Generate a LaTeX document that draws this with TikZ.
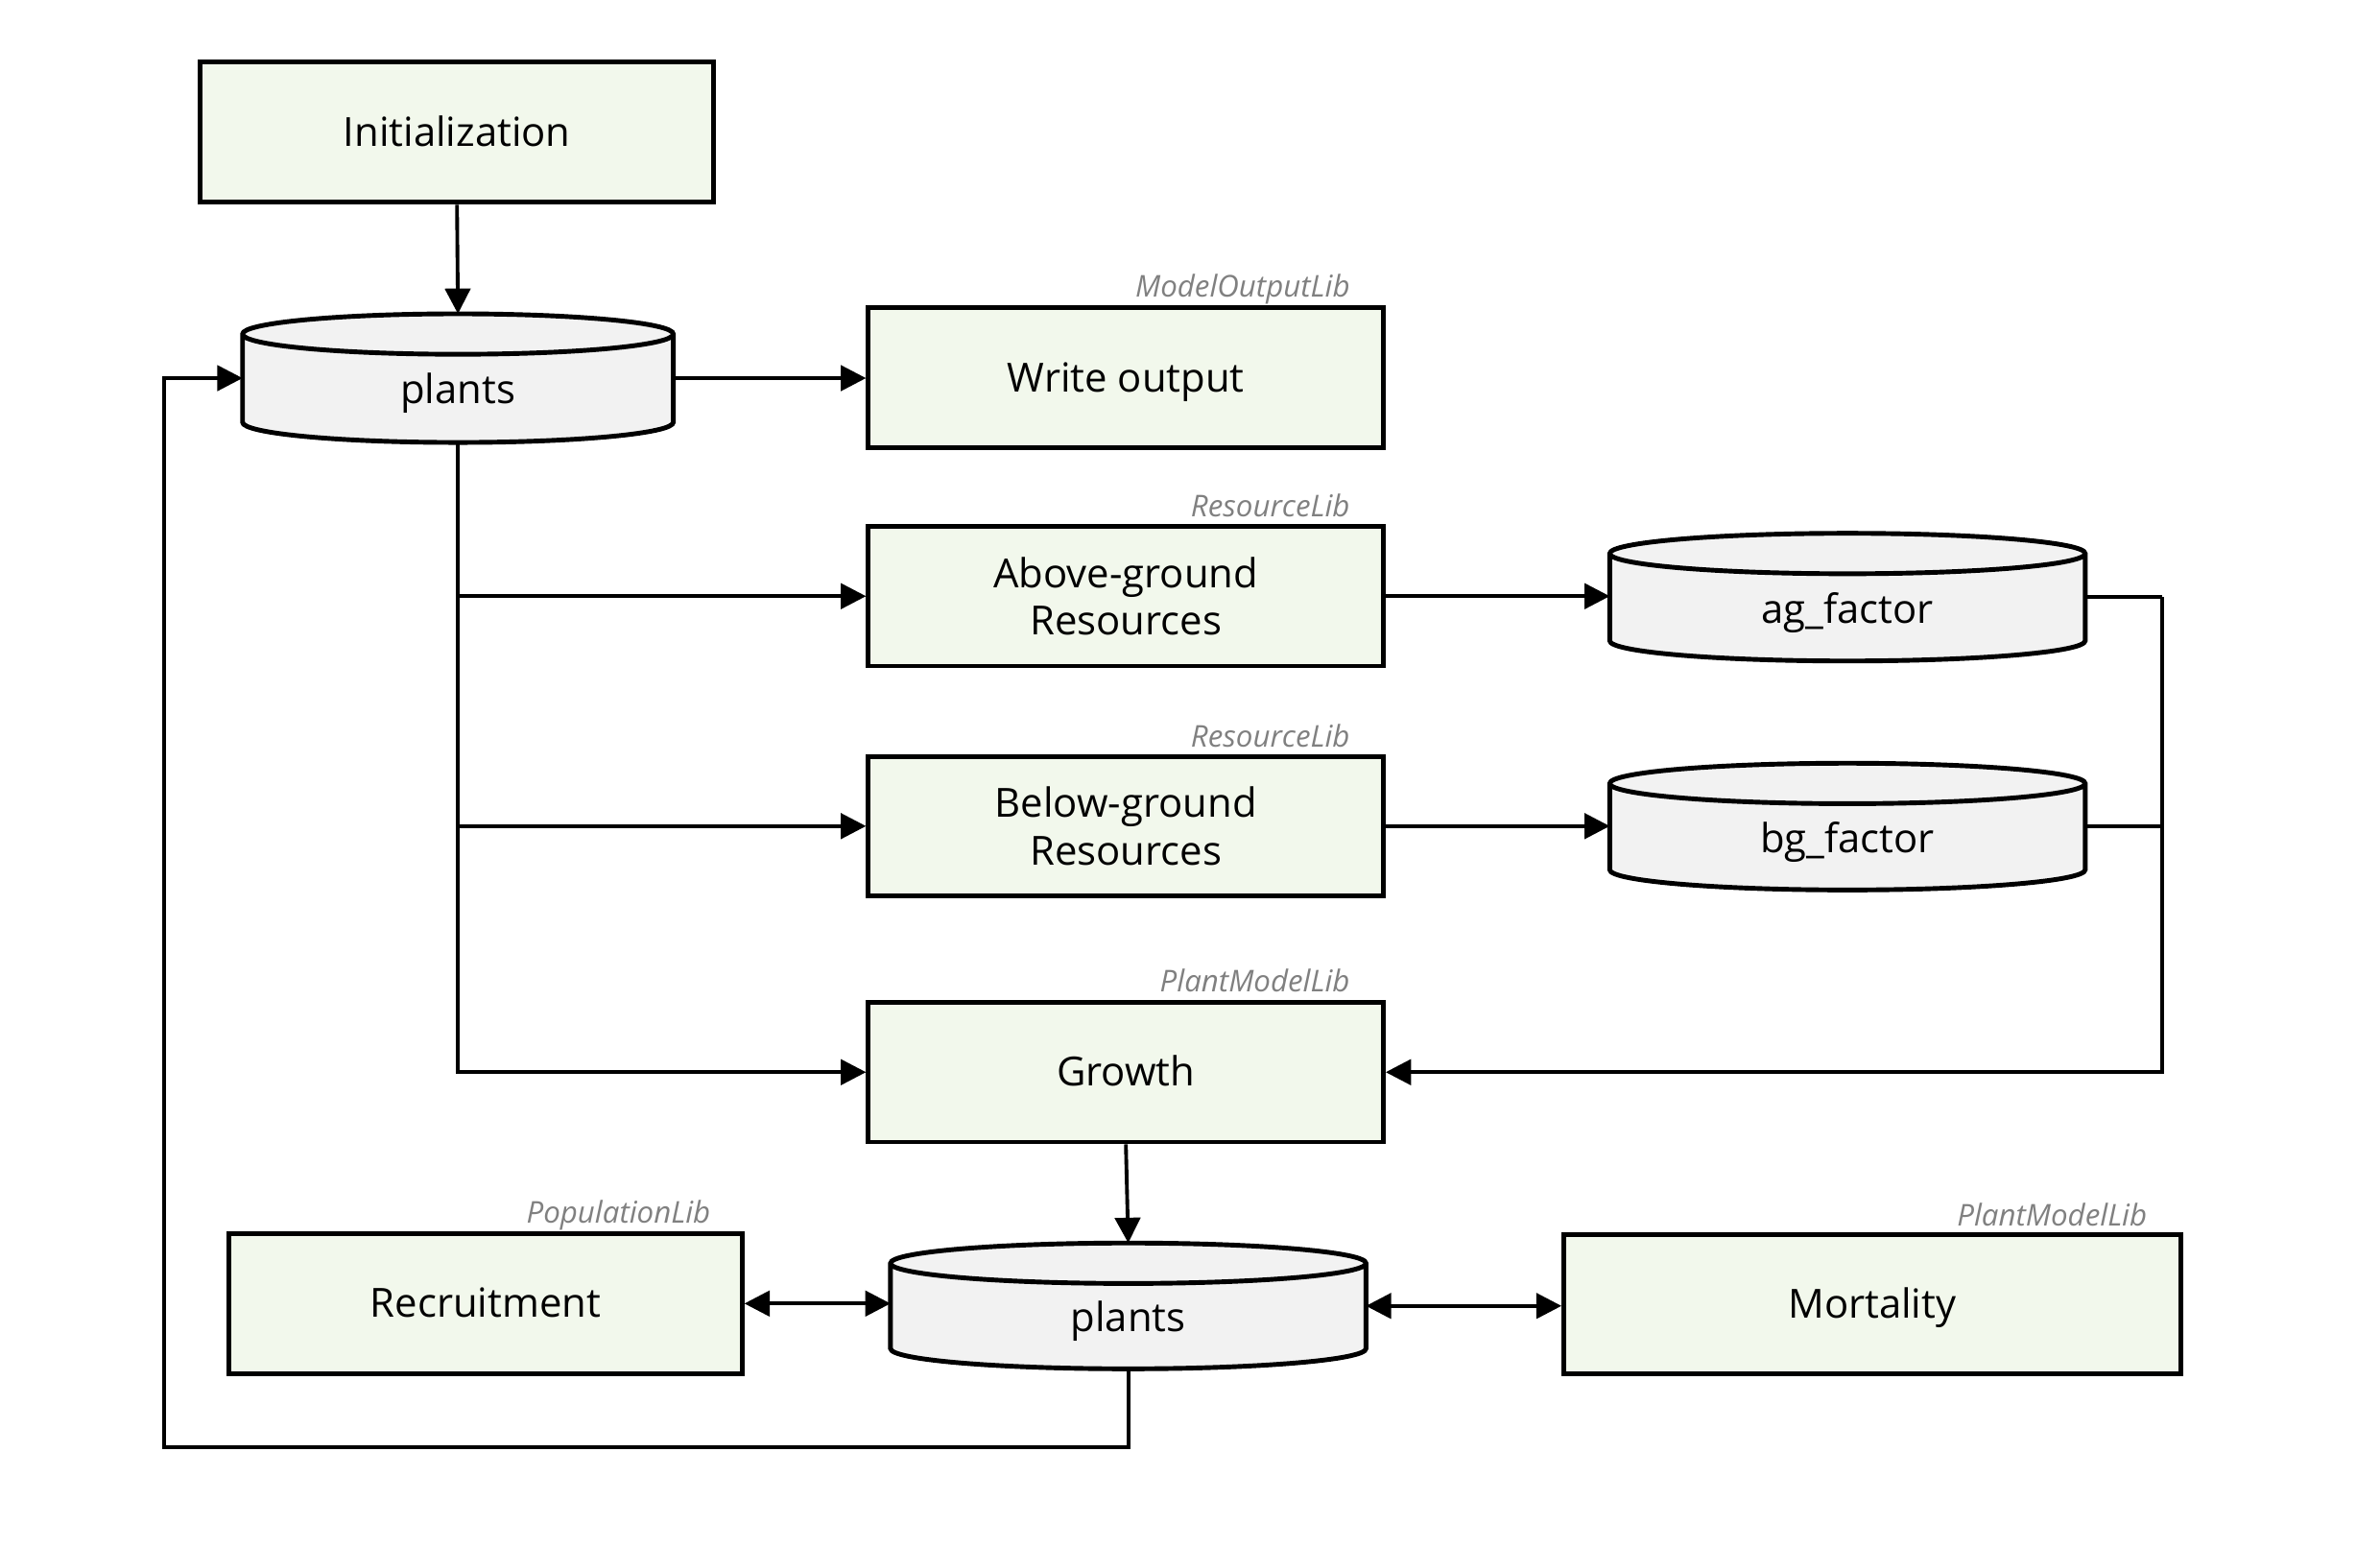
\documentclass[tikz,border=0pt]{standalone}
\usepackage{fontspec}
\setmainfont{Open Sans}
\usetikzlibrary{arrows.meta,calc,backgrounds}
\definecolor{boxfill}{HTML}{F2F8EC}
\definecolor{cylcolor}{HTML}{F2F2F2}
\definecolor{libgray}{HTML}{808080}
\tikzset{
  sz/.style 2 args={minimum width=#1*0.0099cm, minimum height=#2*0.0099cm},
  procbox/.style={draw=black, fill=boxfill, line width=1.4pt, inner sep=0pt,
    align=center, font=\fontsize{11.9}{14}\selectfont},
  oneline/.style={text height=10pt, text depth=1.7pt},
  cylbox/.style={inner sep=0pt},
  cyltext/.style={font=\fontsize{11.9}{14}\selectfont, text height=10pt, text depth=1.7pt, yshift=-3.5pt},
  cylpath/.style={draw=black, fill=cylcolor, line width=1.4pt},
  libtxt/.style={font=\fontsize{8.9}{11}\selectfont\itshape, text=libgray, anchor=east, inner sep=0pt,
    text height=8.4pt, text depth=0pt},
  conn/.style={draw=black, line width=1.1pt, -{Triangle[length=7.5pt,width=7.5pt]}},
  bothconn/.style={draw=black, line width=1.1pt, {Triangle[length=7.5pt,width=7.5pt]}-{Triangle[length=7.5pt,width=7.5pt]}},
  plainconn/.style={draw=black, line width=1.1pt},
}
\newcommand\drawcyl[1]{%
  \path[cylpath] let \p1=(#1.north west), \p2=(#1.south east), \n1={(\x2-\x1)/2} in
    (\x1,\y1-6pt) -- (\x1,\y2+6pt)
    arc[start angle=180,end angle=360,x radius=\n1,y radius=6pt]
    -- (\x2,\y1-6pt)
    arc[start angle=0,end angle=180,x radius=\n1,y radius=6pt] -- cycle
    (\x1,\y1-6pt) arc[start angle=180,end angle=360,x radius=\n1,y radius=6pt];
}
\begin{document}
\begin{tikzpicture}[x=0.0099cm,y=-0.0099cm]
\useasboundingbox (0,0) rectangle (2505,1628);

% process boxes
\node[procbox, oneline, sz={540}{148}] (init) at (481,139) {Initialization};
\node[procbox, oneline, sz={542}{147}] (write) at (1185,397.5) {Write output};
\node[procbox, sz={542}{147}] (above) at (1185,627.5) {Above-ground\\Resources};
\node[procbox, sz={542}{147}] (below) at (1185,869.5) {Below-ground\\Resources};
\node[procbox, oneline, sz={542}{147}] (growth) at (1185,1128.5) {Growth};
\node[procbox, oneline, sz={540}{148}] (recruit) at (511,1372) {Recruitment};
\node[procbox, oneline, sz={649}{147}] (mort) at (1970.5,1372.5) {Mortality};

% cylinders (data stores)
\node[cylbox, sz={452}{134}, label={[cyltext]center:plants}] (plantsA) at (482,398) {};
\node[cylbox, sz={499}{133}, label={[cyltext]center:ag\_factor}] (ag) at (1944.5,628.5) {};
\node[cylbox, sz={499}{132}, label={[cyltext]center:bg\_factor}] (bg) at (1944.5,870) {};
\node[cylbox, sz={499}{131}, label={[cyltext]center:plants}] (plantsB) at (1187.5,1374.5) {};
\begin{scope}[on background layer]
  \drawcyl{plantsA}
  \drawcyl{ag}
  \drawcyl{bg}
  \drawcyl{plantsB}
\end{scope}

% library labels
\node[libtxt] (lib1) at ($(write.north east)+(-37,-24)$) {ModelOutputLib};
\node[libtxt] (lib2) at ($(above.north east)+(-37,-22)$) {ResourceLib};
\node[libtxt] (lib3) at ($(below.north east)+(-37,-22)$) {ResourceLib};
\node[libtxt] (lib4) at ($(growth.north east)+(-37,-24)$) {PlantModelLib};
\node[libtxt] (lib5) at ($(recruit.north east)+(-35,-23)$) {PopulationLib};
\node[libtxt] (lib6) at ($(mort.north east)+(-37,-21)$) {PlantModelLib};

% helper coordinates
\coordinate (bus) at (2276,628);
\coordinate (loopBL) at (173,1523);

% connectors
\draw[conn] (init.south) -- (plantsA.north);
\draw[conn] (plantsA.east) -- (plantsA.east -| write.west);
\draw[conn] (plantsA.south) |- (growth.west);
\draw[conn] (plantsA.south |- above.west) -- (above.west);
\draw[conn] (plantsA.south |- below.west) -- (below.west);
\draw[conn] (above.east) -- (above.east -| ag.west);
\draw[conn] (below.east) -- (below.east -| bg.west);
\draw[plainconn] (ag.east) -- (ag.east -| bus);
\draw[plainconn] (bg.east) -- (bg.east -| bus);
\draw[conn] (ag.east -| bus) |- (growth.east);
\draw[conn] (growth.south) -- (plantsB.north);
\draw[bothconn] (recruit.east) -- (recruit.east -| plantsB.west);
\draw[bothconn] (plantsB.east) -- (plantsB.east -| mort.west);
\draw[conn] (plantsB.south) |- (loopBL) |- (plantsA.west);
\end{tikzpicture}
\end{document}
